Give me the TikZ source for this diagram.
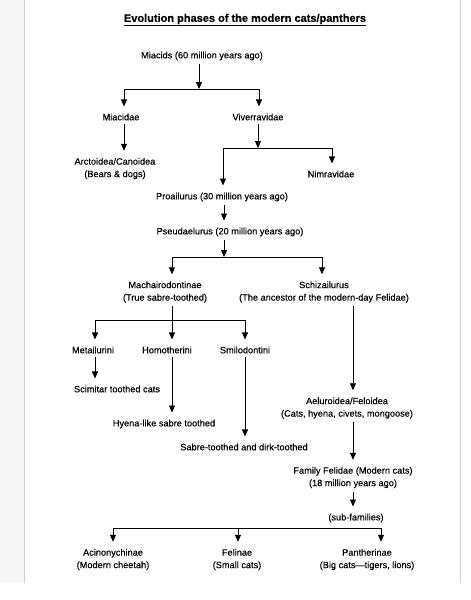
\documentclass[tikz,border=0pt]{standalone}
\usepackage{fontspec}
\setmainfont{Liberation Sans}[UprightFeatures={FakeBold=0.35}, BoldFeatures={FakeBold=0.6}]
\usetikzlibrary{arrows.meta}

\begin{document}
\begin{tikzpicture}[x=1pt,y=-1pt,
    lbl/.style={font=\fontsize{9.2}{12.5}\selectfont, align=center, inner sep=0pt},
    arr/.style={-{Triangle[width=6pt,length=7pt]}, line width=0.9pt},
    stem/.style={shorten <=3.5pt},
    drop/.style={arr, shorten >=7pt}]
    \useasboundingbox (0,0) rectangle (471,600);

    % Faint page frame of the scan
    \fill[black!3] (0,0) rectangle (24,583);
    \draw[black!18] (24,0) -- (24,583);
    \draw[black!18] (460,0) -- (460,583);

    % Title
    \node[lbl, font=\fontsize{11}{13}\selectfont\bfseries] (title) at (245,20)
        {\underline{Evolution phases of the modern cats/panthers}};

    % The labels of the tree
    \node[lbl] (miacids)  at (202,56)    {Miacids (60 million years ago)};
    \node[lbl] (miacidae) at (121,117)   {Miacidae};
    \node[lbl] (viverr)   at (258,117)   {Viverravidae};
    \node[lbl] (arcto)    at (115,168.5) {Arctoidea/Canoidea\\(Bears \& dogs)};
    \node[lbl] (nimrav)   at (331,174)   {Nimravidae};
    \node[lbl] (proail)   at (222,197)   {Proailurus (30 million years ago)};
    \node[lbl] (pseud)    at (230,232)   {Pseudaelurus (20 million years ago)};
    \node[lbl] (machai)   at (165,292)   {Machairodontinae\\(True sabre-toothed)};
    \node[lbl] (schiz)    at (324,292)   {Schizailurus\\(The ancestor of the modern-day Felidae)};
    \node[lbl] (metail)   at (93,350)    {Metailurini};
    \node[lbl] (homoth)   at (167,350)   {Homotherini};
    \node[lbl] (smilo)    at (245,350)   {Smilodontini};
    \node[lbl] (scimitar) at (117,389)   {Scimitar toothed cats};
    \node[lbl] (hyena)    at (164,424)   {Hyena-like sabre toothed};
    \node[lbl] (sabre)    at (244,447)   {Sabre-toothed and dirk-toothed};
    \node[lbl] (aelur)    at (347,408)   {Aeluroidea/Feloidea\\(Cats, hyena, civets, mongoose)};
    \node[lbl] (family)   at (353,477.5) {Family Felidae (Modern cats)\\(18 million years ago)};
    \node[lbl] (subfam)   at (356,518)   {(sub-families)};
    \node[lbl] (acino)    at (113,559.5) {Acinonychinae\\(Modern cheetah)};
    \node[lbl] (felinae)  at (237,559.5) {Felinae\\(Small cats)};
    \node[lbl] (panth)    at (367,559.5) {Pantherinae\\(Big cats---tigers, lions)};

    % Junctions of the bars
    \coordinate (j1)  at (199,89);
    \coordinate (b1l) at (124,89);
    \coordinate (b1r) at (259,89);
    \coordinate (j2)  at (258,148);
    \coordinate (b2l) at (223,148);
    \coordinate (b2r) at (332,148);
    \coordinate (j3)  at (224,257);
    \coordinate (b3l) at (172,257);
    \coordinate (b3r) at (322,257);
    \coordinate (b4l) at (95,320);
    \coordinate (b4r) at (245,320);
    \coordinate (felcol) at (353,0);
    \coordinate (b5l) at (113,528);
    \coordinate (b5m) at (238,528);
    \coordinate (b5r) at (381,528);

    % Miacids fork
    \draw[stem,arr] (miacids.south -| j1) -- (j1);
    \draw[line width=0.9pt] (b1l) -- (b1r);
    \draw[drop] (b1l) -- (miacidae.north -| b1l);
    \draw[drop] (b1r) -- (viverr.north -| b1r);
    \draw[stem,drop] (miacidae.south -| b1l) -- (arcto.north -| b1l);

    % Viverravidae fork
    \draw[stem,arr] (viverr.south -| j2) -- (j2);
    \draw[line width=0.9pt] (b2l) -- (b2r);
    \draw[drop] (b2l) -- (proail.north -| b2l);
    \draw[drop] (b2r) -- (nimrav.north -| b2r);

    % Proailurus -> Pseudaelurus -> fork
    \draw[stem,drop] (proail.south -| j3) -- (pseud.north -| j3);
    \draw[stem,arr] (pseud.south -| j3) -- (j3);
    \draw[line width=0.9pt] (b3l) -- (b3r);
    \draw[drop] (b3l) -- (machai.north -| b3l);
    \draw[drop] (b3r) -- (schiz.north -| b3r);

    % Machairodontinae fork
    \draw[stem,drop] (machai.south -| b3l) -- (homoth.north -| b3l);
    \draw[line width=0.9pt] (b4l) -- (b4r);
    \draw[drop] (b4l) -- (metail.north -| b4l);
    \draw[drop] (b4r) -- (smilo.north -| b4r);
    \draw[stem,drop] (metail.south -| b4l) -- (scimitar.north -| b4l);
    \draw[stem,drop] (homoth.south -| b3l) -- (hyena.north -| b3l);
    \draw[stem,drop] (smilo.south -| b4r) -- (sabre.north -| b4r);

    % Schizailurus line down to the modern cats
    \draw[stem,drop] (schiz.south -| felcol) -- (aelur.north -| felcol);
    \draw[stem,drop] (aelur.south -| felcol) -- (family.north -| felcol);
    \draw[stem,drop] (family.south -| felcol) -- (subfam.north -| felcol);

    % Sub-families
    \draw[line width=0.9pt] (b5l) -- (b5r);
    \draw[drop] (b5l) -- (acino.north -| b5l);
    \draw[drop] (b5m) -- (felinae.north -| b5m);
    \draw[drop] (b5r) -- (panth.north -| b5r);
\end{tikzpicture}
\end{document}
